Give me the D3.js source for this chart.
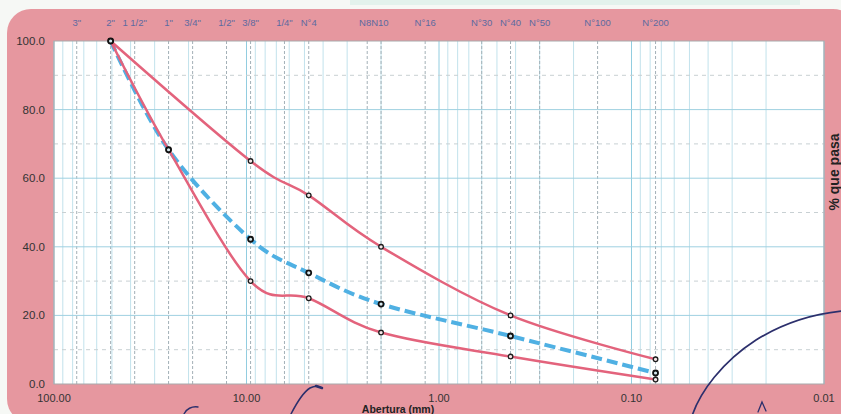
<!DOCTYPE html>
<html>
<head>
<meta charset="utf-8">
<script src="https://cdn.jsdelivr.net/npm/d3@7"></script>
<style>
  html, body { margin: 0; padding: 0; background: #fff; }
  svg { display: block; font-family: "Liberation Sans", Arial, sans-serif; }
</style>
</head>
<body>
<svg id="chart" width="841" height="414"></svg>
<script>
// Sieve openings (mm) of the tested sieves: 2", 1", 3/8", N°4, N°10, N°40, N°200
const openingMm   = [50.8, 25.4, 9.525, 4.75, 2.0, 0.425, 0.075];
// % passing: upper gradation limit, lower gradation limit, sample
const upperLimit  = [100, null, 65, 55, 40, 20, 7.2];
const lowerLimit  = [100, 68.3, 30, 25, 15, 8, 1.3];
const samplePass  = [100, 68.3, 42.2, 32.4, 23.3, 14.0, 3.2];

// Sieve designations along the top edge and their openings (mm)
const sieveLabels = ['3"', '2"', '1 1/2"', '1"', '3/4"', '1/2"', '3/8"', '1/4"', 'N°4', 'N8N10', 'N°16', 'N°30', 'N°40', 'N°50', 'N°100', 'N°200'];
const sieveMm     = [76.2, 50.8, 38.1, 25.4, 19.05, 12.7, 9.525, 6.35, 4.75, 2.18, 1.18, 0.6, 0.425, 0.3, 0.15, 0.075];
const sieveGridMm = [76.2, 50.8, 38.1, 25.4, 19.05, 12.7, 9.525, 6.35, 4.75, 2.36, 2.0, 1.18, 0.6, 0.425, 0.3, 0.15, 0.075];

const yTicks = [0, 20, 40, 60, 80, 100];
const xTicks = [100, 10, 1, 0.1, 0.01];

const svg = d3.select("#chart");
const W = 841, H = 414;
const plot = { left: 54, right: 824, top: 41, bottom: 384 };

const x = d3.scaleLog().domain([100, 0.01]).range([plot.left, plot.right]);
const y = d3.scaleLinear().domain([0, 100]).range([plot.bottom, plot.top]);

// sheet: faint print strip above, pink card with rounded corners
svg.append("rect").attr("width", W).attr("height", H).attr("fill", "#f6f8f5");
svg.append("rect").attr("x", 350).attr("y", 0).attr("width", 450).attr("height", 5)
  .attr("fill", "#dcefe8").attr("opacity", 0.7);
svg.append("rect").attr("x", 7).attr("y", 9).attr("width", 850).attr("height", 414)
  .attr("rx", 24).attr("fill", "#e6979f");

// plot area
svg.append("rect")
  .attr("x", plot.left).attr("y", plot.top)
  .attr("width", plot.right - plot.left).attr("height", plot.bottom - plot.top)
  .attr("fill", "#ffffff");

const grid = svg.append("g");

// log minor vertical lines
const minorMm = [];
[10, 1, 0.1, 0.01].forEach(d => { for (let k = 2; k <= 9; k++) minorMm.push(d * k); });
grid.selectAll(".vminor").data(minorMm.filter(v => v < 100 && v > 0.01)).join("line")
  .attr("x1", d => x(d)).attr("x2", d => x(d))
  .attr("y1", plot.top).attr("y2", plot.bottom)
  .attr("stroke", "#c2e2ec").attr("stroke-width", 1);

// decade lines
grid.selectAll(".vmajor").data(xTicks).join("line")
  .attr("x1", d => x(d)).attr("x2", d => x(d))
  .attr("y1", plot.top).attr("y2", plot.bottom)
  .attr("stroke", "#92cde0").attr("stroke-width", 1);

// sieve lines (dashed)
grid.selectAll(".vsieve").data(sieveGridMm).join("line")
  .attr("x1", d => x(d)).attr("x2", d => x(d))
  .attr("y1", plot.top).attr("y2", plot.bottom)
  .attr("stroke", "#a3b0b7").attr("stroke-width", 1).attr("stroke-dasharray", "3,2");

// horizontal minor dashed lines
grid.selectAll(".hminor").data([10, 30, 50, 70, 90]).join("line")
  .attr("x1", plot.left).attr("x2", plot.right)
  .attr("y1", d => y(d)).attr("y2", d => y(d))
  .attr("stroke", "#c8d0d3").attr("stroke-width", 1).attr("stroke-dasharray", "4,4");

// horizontal major lines
grid.selectAll(".hmajor").data(yTicks.slice(1, -1)).join("line")
  .attr("x1", plot.left).attr("x2", plot.right)
  .attr("y1", d => y(d)).attr("y2", d => y(d))
  .attr("stroke", "#9fd1e1").attr("stroke-width", 1);

svg.append("rect")
  .attr("x", plot.left).attr("y", plot.top)
  .attr("width", plot.right - plot.left).attr("height", plot.bottom - plot.top)
  .attr("fill", "none").attr("stroke", "#a7a9ab").attr("stroke-width", 1);

// axis labels
svg.append("g").selectAll("text").data(yTicks).join("text")
  .attr("x", 45).attr("y", d => y(d)).attr("dy", "0.35em")
  .attr("text-anchor", "end").attr("font-size", 11.5).attr("fill", "#333")
  .text(d3.format(".1f"));

svg.append("g").selectAll("text").data(xTicks).join("text")
  .attr("x", d => x(d)).attr("y", 402)
  .attr("text-anchor", "middle").attr("font-size", 11).attr("fill", "#333")
  .text(d3.format(".2f"));

svg.append("g").selectAll("text").data(sieveLabels).join("text")
  .attr("x", (d, i) => x(sieveMm[i])).attr("y", 26)
  .attr("text-anchor", "middle").attr("font-size", 9.5).attr("fill", "#5d6aa0")
  .text(d => d);

svg.append("text")
  .attr("x", 398).attr("y", 413).attr("text-anchor", "middle")
  .attr("font-size", 10.5).attr("font-weight", "bold").attr("fill", "#222")
  .text("Abertura (mm)");

svg.append("text")
  .attr("transform", "translate(839,172) rotate(-90)")
  .attr("text-anchor", "middle").attr("font-size", 14).attr("font-weight", "bold").attr("fill", "#222")
  .text("% que pasa");

// curves
const toPts = arr => openingMm.map((mm, i) => ({ mm, v: arr[i] })).filter(d => d.v != null);
const line = d3.line().x(d => x(d.mm)).y(d => y(d.v)).curve(d3.curveCardinal.tension(0));

const samplePts = toPts(samplePass);
const upperPts = toPts(upperLimit);
const lowerPts = toPts(lowerLimit);

svg.append("path").datum(samplePts).attr("d", line)
  .attr("fill", "none").attr("stroke", "#4fb0e3").attr("stroke-width", 4)
  .attr("stroke-dasharray", "11,5");

[upperPts, lowerPts].forEach(pts => {
  svg.append("path").datum(pts).attr("d", line)
    .attr("fill", "none").attr("stroke", "#e3637c").attr("stroke-width", 2.5);
});

[upperPts, lowerPts].forEach(pts => {
  svg.append("g").selectAll("circle").data(pts).join("circle")
    .attr("cx", d => x(d.mm)).attr("cy", d => y(d.v)).attr("r", 2.3)
    .attr("fill", "#f6e6e8").attr("stroke", "#1d1d1d").attr("stroke-width", 1.3);
});
svg.append("g").selectAll("circle").data(samplePts).join("circle")
  .attr("cx", d => x(d.mm)).attr("cy", d => y(d.v)).attr("r", 2.5)
  .attr("fill", "#d6e8ef").attr("stroke", "#111").attr("stroke-width", 1.8);

// ink annotations on the sheet
const ink = svg.append("g").attr("fill", "none").attr("stroke", "#2c2f6c")
  .attr("stroke-linecap", "round");
ink.append("path").attr("stroke-width", 1.7)
  .attr("d", "M692,416 C700,392 722,362 756,340 C782,324 812,314 843,311");
ink.append("path").attr("stroke-width", 1.5)
  .attr("d", "M290,416 C296,404 302,393 310,388 C314,386 319,386 322,388");
ink.append("path").attr("stroke-width", 2.5)
  .attr("d", "M316,386 L322,388");
ink.append("path").attr("stroke-width", 1.4)
  .attr("d", "M184,414 C186,409 192,406 198,407");
ink.append("path").attr("stroke-width", 1.3)
  .attr("d", "M758,412 L762,402 L766,411");
</script>
</body>
</html>
